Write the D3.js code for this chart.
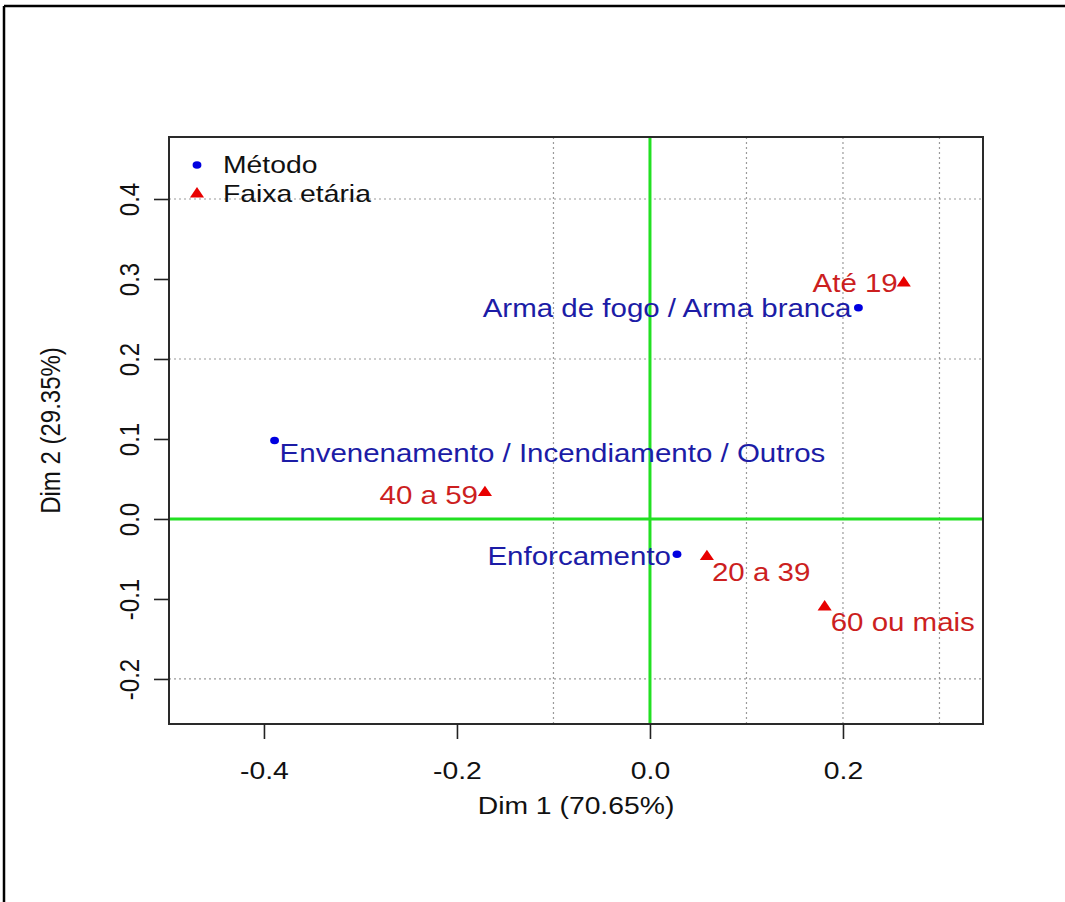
<!DOCTYPE html>
<html>
<head>
<meta charset="utf-8">
<script src="https://cdn.jsdelivr.net/npm/d3@7"></script>
<style>
  html, body { margin: 0; padding: 0; background: #fff; }
  svg { display: block; font-family: "Liberation Sans", Arial, sans-serif; }
</style>
</head>
<body>
<svg id="chart" width="1065" height="902"></svg>
<script>
document.addEventListener("DOMContentLoaded", () => {
  "use strict";

  // method categories (blue)
  const METODO     = ["Arma de fogo / Arma branca", "Envenenamento / Incendiamento / Outros", "Enforcamento"];
  const METODO_DIM1 = [0.216, -0.389, 0.028];
  const METODO_DIM2 = [0.264, 0.098, -0.044];

  // age groups (red)
  const FAIXA      = ["Até 19", "20 a 39", "40 a 59", "60 ou mais"];
  const FAIXA_DIM1 = [0.263, 0.059, -0.171, 0.181];
  const FAIXA_DIM2 = [0.295, -0.047, 0.033, -0.110];

  const X_TICKS = [-0.4, -0.2, 0.0, 0.2];
  const Y_TICKS = [-0.2, -0.1, 0.0, 0.1, 0.2, 0.3, 0.4];
  const X_GRID  = [-0.1, 0.1, 0.2, 0.3];
  const Y_GRID  = [-0.2, 0.2, 0.4];

  const LEGEND = ["Método", "Faixa etária"];
  const X_TITLE = "Dim 1 (70.65%)";
  const Y_TITLE = "Dim 2 (29.35%)";

  // label placement (anchor, dx, dy) per point
  const METODO_LAB = [["end", -7, 1], ["start", 5, 13], ["end", -6, 2]];
  const FAIXA_LAB  = [["end", -6, 0], ["start", 5, 16], ["end", -7, 3], ["start", 6, 15]];

  const SX = 1.18;          // the reference is stretched horizontally
  const FS = 24;
  const BLUE = "#0000e0", BLUE_TXT = "#1c1ca6";
  const RED = "#e80000",  RED_TXT = "#cc1f1f";
  const GREEN = "#22e022";

  const svg = d3.select("#chart");
  const M = { left: 169, top: 137, right: 983, bottom: 724 };

  const x = d3.scaleLinear().domain([-0.4984, 0.3451]).range([M.left, M.right]);
  const y = d3.scaleLinear().domain([-0.2563, 0.4775]).range([M.bottom, M.top]);

  // outer frame (only top & left edges show)
  svg.append("line").attr("x1", 4).attr("x2", 1065).attr("y1", 6).attr("y2", 6)
    .attr("stroke", "#000").attr("stroke-width", 2.5);
  svg.append("line").attr("x1", 4).attr("x2", 4).attr("y1", 6).attr("y2", 902)
    .attr("stroke", "#000").attr("stroke-width", 2.5);

  function stext(g, px, py, str, opt = {}) {
    return g.append("text")
      .attr("transform", `translate(${px},${py}) scale(${SX},1)` + (opt.rot ? ` rotate(${opt.rot})` : ""))
      .attr("text-anchor", opt.anchor || "middle")
      .attr("dominant-baseline", "central")
      .attr("fill", opt.fill || "#111")
      .style("font-size", (opt.size || FS) + "px")
      .text(str);
  }

  // grid
  const grid = svg.append("g");
  grid.selectAll("line.gx").data(X_GRID).join("line").attr("class", "gx")
    .attr("x1", d => x(d)).attr("x2", d => x(d)).attr("y1", M.top).attr("y2", M.bottom)
    .attr("stroke", "#9a9a9a").attr("stroke-width", 1.2).attr("stroke-dasharray", "2,3");
  grid.selectAll("line.gy").data(Y_GRID).join("line").attr("class", "gy")
    .attr("x1", M.left).attr("x2", M.right).attr("y1", d => y(d)).attr("y2", d => y(d))
    .attr("stroke", "#9a9a9a").attr("stroke-width", 1.2).attr("stroke-dasharray", "2,3");

  // zero lines
  svg.append("line").attr("x1", M.left).attr("x2", M.right).attr("y1", y(0)).attr("y2", y(0))
    .attr("stroke", GREEN).attr("stroke-width", 3);
  svg.append("line").attr("x1", x(0)).attr("x2", x(0)).attr("y1", M.top).attr("y2", M.bottom)
    .attr("stroke", GREEN).attr("stroke-width", 3);

  // box
  svg.append("rect").attr("x", M.left).attr("y", M.top)
    .attr("width", M.right - M.left).attr("height", M.bottom - M.top)
    .attr("fill", "none").attr("stroke", "#2a2a2a").attr("stroke-width", 2);

  // axes
  const fmt = d => d.toFixed(1);
  const xa = svg.append("g").attr("transform", `translate(0,${M.bottom})`)
    .call(d3.axisBottom(x).tickValues(X_TICKS).tickSize(15).tickSizeOuter(0).tickFormat(fmt));
  const ya = svg.append("g").attr("transform", `translate(${M.left},0)`)
    .call(d3.axisLeft(y).tickValues(Y_TICKS).tickSize(15).tickSizeOuter(0).tickFormat(fmt));
  [xa, ya].forEach(a => {
    a.select(".domain").remove();
    a.selectAll(".tick line").attr("stroke", "#222").attr("stroke-width", 1.6);
  });
  xa.selectAll(".tick text")
    .attr("y", null).attr("dy", null)
    .attr("transform", `translate(0,47) scale(${SX},1)`)
    .attr("dominant-baseline", "central")
    .attr("fill", "#111").style("font-size", FS + "px").style("font-family", null);
  ya.selectAll(".tick text")
    .attr("x", null).attr("dy", null)
    .attr("transform", `translate(-40,0) scale(${SX},1) rotate(-90)`)
    .attr("text-anchor", "middle").attr("dominant-baseline", "central")
    .attr("fill", "#111").style("font-size", FS + "px").style("font-family", null);

  // axis titles
  stext(svg, (M.left + M.right) / 2, 806, X_TITLE);
  stext(svg, 50, (M.top + M.bottom) / 2, Y_TITLE, { rot: -90 });

  const dot = d3.symbol().type(d3.symbolCircle).size(44);
  const tri = d3.symbol().type(d3.symbolTriangle).size(62);

  // points + labels
  const pts = svg.append("g");
  const mData = METODO.map((n, i) => ({ n, x: METODO_DIM1[i], y: METODO_DIM2[i], lab: METODO_LAB[i] }));
  const fData = FAIXA.map((n, i) => ({ n, x: FAIXA_DIM1[i], y: FAIXA_DIM2[i], lab: FAIXA_LAB[i] }));

  pts.selectAll("path.m").data(mData).join("path").attr("class", "m")
    .attr("d", dot).attr("fill", BLUE)
    .attr("transform", d => `translate(${x(d.x)},${y(d.y)}) scale(${SX},1)`);
  pts.selectAll("path.f").data(fData).join("path").attr("class", "f")
    .attr("d", tri).attr("fill", RED)
    .attr("transform", d => `translate(${x(d.x)},${y(d.y)}) scale(${SX},1)`);

  mData.forEach(d => stext(pts, x(d.x) + d.lab[1], y(d.y) + d.lab[2], d.n,
    { anchor: d.lab[0], fill: BLUE_TXT, size: 25 }));
  fData.forEach(d => stext(pts, x(d.x) + d.lab[1], y(d.y) + d.lab[2], d.n,
    { anchor: d.lab[0], fill: RED_TXT, size: 25 }));

  // legend (no box)
  const lg = svg.append("g").attr("transform", "translate(197,165)");
  lg.append("path").attr("d", dot).attr("fill", BLUE).attr("transform", `translate(0,0) scale(${SX},1)`);
  lg.append("path").attr("d", tri).attr("fill", RED).attr("transform", `translate(0,29) scale(${SX},1)`);
  LEGEND.forEach((t, i) => stext(lg, 26, i * 29, t, { anchor: "start" }));
});
</script>
</body>
</html>
